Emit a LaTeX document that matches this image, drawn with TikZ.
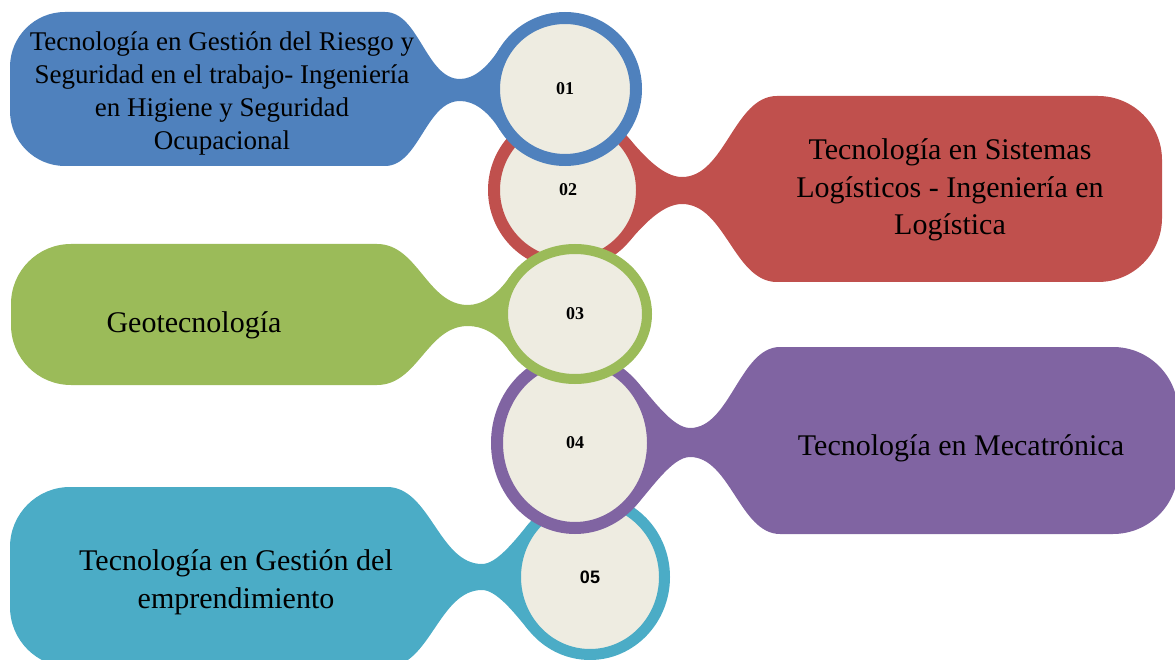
\documentclass[tikz,border=0pt]{standalone}
\usepackage{fontspec}
\setmainfont{Liberation Serif}
\newfontfamily\arialf{Liberation Sans}
\usetikzlibrary{shapes.geometric}
\definecolor{cBlue}{HTML}{4F81BD}
\definecolor{cRed}{HTML}{C0504D}
\definecolor{cGreen}{HTML}{9BBB59}
\definecolor{cPurple}{HTML}{8064A2}
\definecolor{cCyan}{HTML}{4BACC6}
\definecolor{cIn}{HTML}{EEECE1}
\tikzset{
  ringnode/.style={ellipse, inner sep=0pt, fill=cIn, text=black,
    font=\fontsize{18}{20}\selectfont\bfseries},
  blobtext/.style={align=center, inner sep=0pt, text=black},
}
\begin{document}
\begin{tikzpicture}[x=1pt,y=-1pt]
\useasboundingbox (0,0) rectangle (1175,660);
\clip (0,0) rectangle (1175,660);

% 05 cyan
\fill[cCyan] (387,667) -- (70,667) arc[start angle=270,end angle=180,radius=60pt]
  -- (10,547) arc[start angle=180,end angle=90,radius=60pt]
  -- (387,487) .. controls (430,487) and (439,564) .. (482,564)
  .. controls (496,564) and (513,543) .. (528.7,523.6) -- (590,577)
  -- (528.7,630.4) .. controls (513,611) and (496,590) .. (482,590)
  .. controls (439,590) and (430,667) .. (387,667) -- cycle;
\node[ringnode, draw=cCyan, line width=11pt, minimum width=149pt, minimum height=155pt,
  font=\arialf\fontsize{18}{20}\selectfont\bfseries] (c5) at (590,577) {05};

% 04 purple
\fill[cPurple] (780,534) -- (1113,534) arc[start angle=-90,end angle=0,radius=65pt]
  -- (1178,412) arc[start angle=0,end angle=90,radius=65pt]
  -- (780,347) .. controls (740,347) and (730,428) .. (690,428)
  .. controls (672,428) and (651.4,397.1) .. (634.4,378.7) -- (575,443)
  -- (634.4,507.3) .. controls (651.4,488.9) and (672,457) .. (690,457)
  .. controls (730,457) and (740,534) .. (780,534) -- cycle;
\node[ringnode, draw=cPurple, line width=12pt, minimum width=156pt, minimum height=170pt] (c4) at (575,443) {04};

% 02 red
\fill[cRed] (777,282) -- (1098,282) arc[start angle=-90,end angle=0,radius=64pt]
  -- (1162,160) arc[start angle=0,end angle=90,radius=64pt]
  -- (777,96) .. controls (734,96) and (725,177) .. (682,177)
  .. controls (664,177) and (645.4,157.8) .. (629.3,138.6) -- (568,190)
  -- (629.3,241.4) .. controls (645.4,222.2) and (664,204) .. (682,204)
  .. controls (725,204) and (734,282) .. (777,282) -- cycle;
\node[ringnode, draw=cRed, line width=12pt, minimum width=148pt, minimum height=148pt] (c2) at (568,190) {02};

% 03 green
\fill[cGreen] (377,385) -- (71,385) arc[start angle=270,end angle=180,radius=60pt]
  -- (11,304) arc[start angle=180,end angle=90,radius=60pt]
  -- (377,244) .. controls (418,244) and (427,305) .. (468,305)
  .. controls (482,305) and (497.2,295) .. (509.7,276.9) -- (575,314)
  -- (509.7,351.1) .. controls (497.2,333) and (482,326) .. (468,326)
  .. controls (427,326) and (418,385) .. (377,385) -- cycle;
\node[ringnode, draw=cGreen, line width=10pt, minimum width=144pt, minimum height=130pt] (c3) at (575,314) {03};

% 01 blue
\fill[cBlue] (385,166) -- (65,166) arc[start angle=270,end angle=180,radius=55pt]
  -- (10,67) arc[start angle=180,end angle=90,radius=55pt]
  -- (385,12) .. controls (419,12) and (426,79) .. (460,79)
  .. controls (474,79) and (488,66.9) .. (499.7,48.2) -- (565,89)
  -- (499.7,129.8) .. controls (488,111.1) and (474,101) .. (460,101)
  .. controls (426,101) and (419,166) .. (385,166) -- cycle;
\node[ringnode, draw=cBlue, line width=12pt, minimum width=142pt, minimum height=142pt] (c1) at (565,89) {01};

% texts
\node[blobtext, font=\fontsize{27}{33}\selectfont] (t1) at (222,93)
  {Tecnología en Gestión del Riesgo y\\Seguridad en el trabajo- Ingeniería\\en Higiene y Seguridad\\Ocupacional};
\node[blobtext, font=\fontsize{30}{37.5}\selectfont] (t2) at (950,190)
  {Tecnología en Sistemas\\Logísticos - Ingeniería en\\Logística};
\node[blobtext, anchor=base, font=\fontsize{30}{36}\selectfont] (t3) at (194,332) {Geotecnología};
\node[blobtext, anchor=base, font=\fontsize{30}{36}\selectfont] (t4) at (961,455) {Tecnología en Mecatrónica};
\node[blobtext, font=\fontsize{30}{38}\selectfont] (t5) at (236,582)
  {Tecnología en Gestión del\\emprendimiento};
\end{tikzpicture}
\end{document}
